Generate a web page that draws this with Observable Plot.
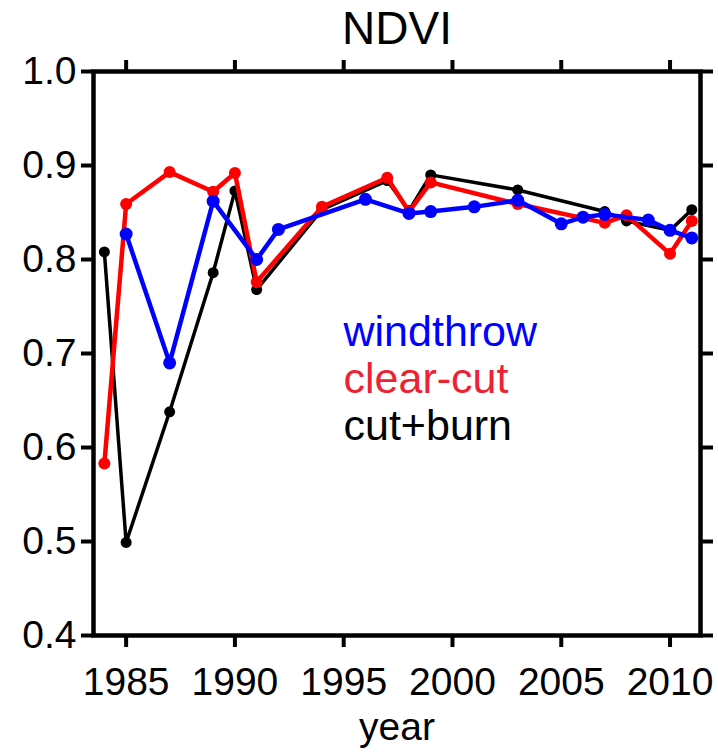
<!DOCTYPE html>
<html>
<head>
<meta charset="utf-8">
<script src="https://cdn.jsdelivr.net/npm/d3@7"></script>
<script src="https://cdn.jsdelivr.net/npm/@observablehq/plot@0.6"></script>
<style>
  html, body { margin: 0; padding: 0; background: white; }
</style>
</head>
<body>
<div id="chart"></div>
<script>
const chartTitle = "NDVI";
const xLabel = "year";
const xTicks = [1985, 1990, 1995, 2000, 2005, 2010];
const yTicks = [0.4, 0.5, 0.6, 0.7, 0.8, 0.9, 1.0];

const windthrowYears = [1985, 1987, 1989, 1991, 1992, 1996, 1998, 1999, 2001, 2003, 2005, 2006, 2007, 2009, 2010, 2011];
const windthrowNDVI  = [0.827, 0.690, 0.862, 0.800, 0.832, 0.864, 0.849, 0.851, 0.856, 0.863, 0.838, 0.845, 0.848, 0.842, 0.831, 0.823];

const clearcutYears = [1984, 1985, 1987, 1989, 1990, 1991, 1994, 1997, 1998, 1999, 2003, 2007, 2008, 2010, 2011];
const clearcutNDVI  = [0.583, 0.859, 0.893, 0.872, 0.892, 0.776, 0.856, 0.887, 0.851, 0.882, 0.859, 0.839, 0.847, 0.806, 0.841];

const cutburnYears = [1984, 1985, 1987, 1989, 1990, 1991, 1994, 1997, 1998, 1999, 2003, 2007, 2008, 2010, 2011];
const cutburnNDVI  = [0.808, 0.499, 0.638, 0.786, 0.873, 0.768, 0.853, 0.884, 0.852, 0.890, 0.874, 0.851, 0.841, 0.831, 0.853];

const seriesNames = ["windthrow", "clear-cut", "cut+burn"];

function tidy(years, vals, name) {
  return years.map((y, i) => ({year: y, ndvi: vals[i], series: name}));
}
const wt = tidy(windthrowYears, windthrowNDVI, seriesNames[0]);
const cc = tidy(clearcutYears, clearcutNDVI, seriesNames[1]);
const cb = tidy(cutburnYears, cutburnNDVI, seriesNames[2]);

const blue = "#0000ff", red = "#ff0000", black = "#000000";
const tickFont = 39;
const legendFont = 43;

const plot = Plot.plot({
  width: 718,
  height: 754,
  marginLeft: 93,
  marginRight: 18,
  marginTop: 71,
  marginBottom: 119,
  style: {fontFamily: "'Liberation Sans', Arial, sans-serif", background: "white", color: "black"},
  x: {domain: [1983.5, 2011.4]},
  y: {domain: [0.4, 1.0]},
  marks: [
    Plot.line(cb, {x: "year", y: "ndvi", stroke: black, strokeWidth: 3.5}),
    Plot.dot(cb, {x: "year", y: "ndvi", fill: black, r: 5.5}),
    Plot.line(cc, {x: "year", y: "ndvi", stroke: red, strokeWidth: 4.5}),
    Plot.dot(cc, {x: "year", y: "ndvi", fill: red, r: 6}),
    Plot.line(wt, {x: "year", y: "ndvi", stroke: blue, strokeWidth: 4.5}),
    Plot.dot(wt, {x: "year", y: "ndvi", fill: blue, r: 6.5}),
    Plot.frame({stroke: "black", strokeWidth: 4.5}),
    Plot.axisX({anchor: "bottom", ticks: xTicks, tickFormat: "d", tickSize: 12, strokeWidth: 4, fontSize: tickFont, tickPadding: 20, label: null}),
    Plot.axisX({anchor: "top", ticks: xTicks, tickFormat: () => "", tickSize: 12, strokeWidth: 4, label: null}),
    Plot.axisY({anchor: "left", ticks: yTicks, tickFormat: d3.format(".1f"), tickSize: 12, strokeWidth: 4, fontSize: tickFont, tickPadding: 5, label: null}),
    Plot.axisY({anchor: "right", ticks: yTicks, tickFormat: () => "", tickSize: 12, strokeWidth: 4, label: null}),
    Plot.text([chartTitle], {frameAnchor: "top", dy: -42, fontSize: 46, lineAnchor: "middle", fill: "black"}),
    Plot.text([xLabel], {frameAnchor: "bottom", dy: 92, fontSize: tickFont, lineAnchor: "middle", fill: "black"}),
    Plot.text([seriesNames[0]], {frameAnchor: "top-left", dx: 250, dy: 261, fontSize: legendFont, textAnchor: "start", lineAnchor: "middle", fill: blue}),
    Plot.text([seriesNames[1]], {frameAnchor: "top-left", dx: 250, dy: 308, fontSize: legendFont, textAnchor: "start", lineAnchor: "middle", fill: "#ee2233"}),
    Plot.text([seriesNames[2]], {frameAnchor: "top-left", dx: 250, dy: 355, fontSize: legendFont, textAnchor: "start", lineAnchor: "middle", fill: black})
  ]
});
document.getElementById("chart").appendChild(plot);
</script>
</body>
</html>
